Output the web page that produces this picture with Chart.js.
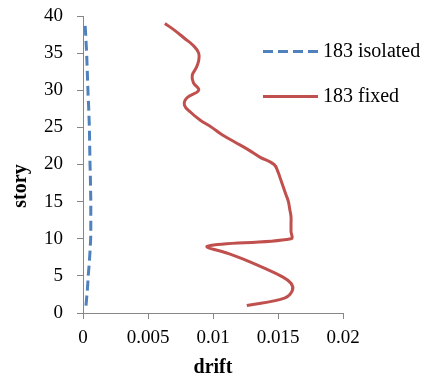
<!DOCTYPE html>
<html>
<head>
<meta charset="utf-8">
<script src="https://cdn.jsdelivr.net/npm/chart.js@4"></script>
<style>
  html, body { margin: 0; padding: 0; background: #fff; }
  #wrap { width: 428px; height: 378px; }
</style>
</head>
<body>
<div id="wrap"><canvas id="driftChart" width="428" height="378"></canvas></div>
<script>
// story levels and drift per story
const stories = [1, 2, 3, 4, 5, 6, 7, 8, 9, 10, 11, 12, 13, 14, 15, 16, 17, 18, 19, 20,
    21, 22, 23, 24, 25, 26, 27, 28, 29, 30, 31, 32, 33, 34, 35, 36, 37, 38, 39];

const isolatedDrift = [0.00023, 0.00028, 0.00033, 0.00037, 0.00040, 0.00045, 0.00049, 0.00053, 0.00056, 0.00059,
    0.00060, 0.00060, 0.00060, 0.00060, 0.00060, 0.00059, 0.00058, 0.00057, 0.00056, 0.00054,
    0.00053, 0.00052, 0.00051, 0.00050, 0.00049, 0.00047, 0.00045, 0.00043, 0.00040, 0.00038,
    0.00036, 0.00034, 0.00032, 0.00030, 0.00028, 0.00025, 0.00022, 0.00019, 0.00015];

const fixedDrift = [0.0126, 0.0155, 0.0161, 0.0160, 0.0152, 0.0140, 0.0127, 0.0112, 0.0096, 0.0160,
    0.0160, 0.0160, 0.0160, 0.0159, 0.0158, 0.0156, 0.0154, 0.0152, 0.0150, 0.0147,
    0.0136, 0.0127, 0.0117, 0.0107, 0.0099, 0.0090, 0.0083, 0.0078, 0.0080, 0.0089,
    0.0085, 0.0084, 0.0087, 0.0089, 0.0089, 0.0085, 0.0078, 0.0071, 0.0063];

const seriesNames = ['183 isolated', '183 fixed'];

const xTicks = [0, 0.005, 0.01, 0.015, 0.02];
const xTickLabels = ['0', '0.005', '0.01', '0.015', '0.02'];
const yTicks = [0, 5, 10, 15, 20, 25, 30, 35, 40];
const yTickLabels = ['0', '5', '10', '15', '20', '25', '30', '35', '40'];

const serif = 'Liberation Serif';
const axisGrey = '#868686';

const toPoints = (xs) => xs.map((x, i) => ({ x: x, y: stories[i] }));

// legend on the right + rotated y title
const sideBits = {
    id: 'sideBits',
    afterDraw(chart) {
        const ctx = chart.ctx;
        const rows = [51.5, 96.5];
        ctx.save();
        chart.data.datasets.forEach((ds, i) => {
            const y = rows[i];
            ctx.beginPath();
            ctx.strokeStyle = ds.borderColor;
            ctx.lineWidth = ds.borderWidth;
            ctx.setLineDash(ds.borderDash || []);
            ctx.moveTo(263, y);
            ctx.lineTo(318, y);
            ctx.stroke();
            ctx.setLineDash([]);
            ctx.fillStyle = '#000';
            ctx.font = '20px "' + serif + '"';
            ctx.textAlign = 'left';
            ctx.textBaseline = 'middle';
            ctx.fillText(ds.label, 323, y);
        });
        ctx.translate(21, 186);
        ctx.rotate(-Math.PI / 2);
        ctx.font = 'bold 20px "' + serif + '"';
        ctx.textAlign = 'center';
        ctx.textBaseline = 'middle';
        ctx.fillText('story', 0, 0);
        ctx.restore();
    }
};

new Chart(document.getElementById('driftChart'), {
    type: 'scatter',
    data: {
        datasets: [{
            label: seriesNames[0],
            data: toPoints(isolatedDrift),
            showLine: true,
            borderColor: '#4F81BD',
            borderWidth: 3,
            borderDash: [10, 5],
            tension: 0.4,
            pointRadius: 0
        }, {
            label: seriesNames[1],
            data: toPoints(fixedDrift),
            showLine: true,
            borderColor: '#C0504D',
            borderWidth: 3,
            tension: 0.4,
            pointRadius: 0
        }]
    },
    options: {
        responsive: false,
        animation: false,
        layout: { padding: { top: 16, right: 85, left: 0, bottom: 0 } },
        plugins: { legend: { display: false }, tooltip: { enabled: false } },
        scales: {
            x: {
                min: 0, max: 0.02,
                afterBuildTicks: (s) => { s.ticks = xTicks.map(v => ({ value: v })); },
                afterFit: (s) => { s.height = 65; s.paddingLeft = 0; s.paddingRight = 0; },
                ticks: {
                    callback: (v, i) => xTickLabels[i],
                    maxRotation: 0, autoSkip: false,
                    color: '#000', padding: 8,
                    font: { family: serif, size: 19 }
                },
                grid: { drawOnChartArea: false, drawTicks: true, tickLength: 6, color: axisGrey },
                border: { color: axisGrey, width: 1 },
                title: {
                    display: true, text: 'drift', color: '#000',
                    padding: { top: 0, bottom: 0 },
                    font: { family: serif, size: 20, weight: 'bold', lineHeight: 1 }
                }
            },
            y: {
                min: 0, max: 40,
                afterBuildTicks: (s) => { s.ticks = yTicks.map(v => ({ value: v })); },
                afterFit: (s) => { s.width = 83; s.paddingTop = 0; s.paddingBottom = 0; },
                ticks: {
                    callback: (v, i) => yTickLabels[i],
                    autoSkip: false,
                    color: '#000', padding: 14,
                    font: { family: serif, size: 19 }
                },
                grid: { drawOnChartArea: false, drawTicks: true, tickLength: 6, color: axisGrey },
                border: { color: axisGrey, width: 1 }
            }
        }
    },
    plugins: [sideBits]
});
</script>
</body>
</html>
